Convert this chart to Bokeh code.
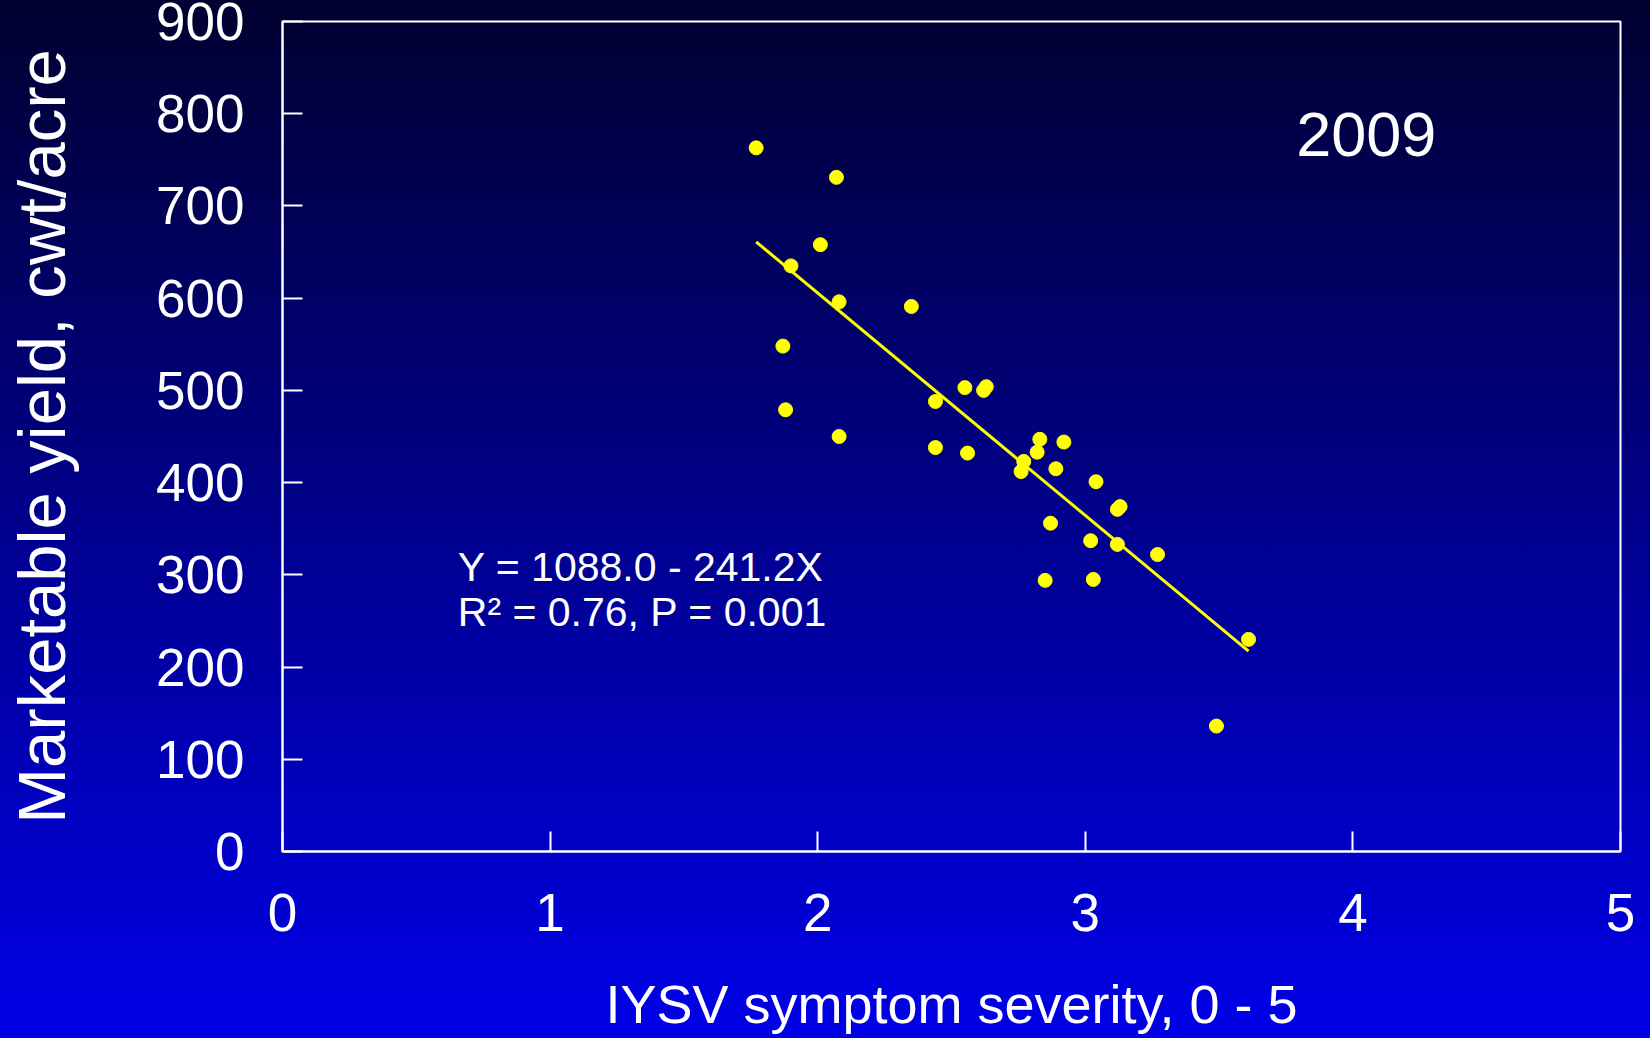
from bokeh.plotting import figure
from bokeh.models import Range1d, FixedTicker, Label, ColumnDataSource
from bokeh.embed import file_html
from bokeh.resources import INLINE

# ---- data ----
severity = [1.77, 2.07, 2.01, 1.90, 2.08, 2.35, 1.87, 1.88, 2.08, 2.44,
            2.55, 2.62, 2.63, 2.44, 2.56, 2.77, 2.76, 2.83, 2.82, 2.92,
            2.89, 3.04, 3.12, 3.13, 2.87, 3.02, 3.12, 3.27, 2.85, 3.03,
            3.61, 3.49]
yield_cwt = [763, 731, 658, 635, 596, 591, 548, 479, 450, 488,
             503, 500, 504, 438, 432, 423, 412, 447, 433, 444,
             415, 401, 371, 374, 356, 337, 333, 322, 294, 295,
             230, 136]
intercept = 1088.0
slope = -241.2
x_ticks = [0, 1, 2, 3, 4, 5]
y_ticks = [0, 100, 200, 300, 400, 500, 600, 700, 800, 900]
year_label = "2009"
eq_line1 = "Y = 1088.0 - 241.2X"
eq_line2 = "R\u00b2 = 0.76, P = 0.001"
x_title = "IYSV symptom severity, 0 - 5"
y_title = "Marketable yield, cwt/acre"

FONT = "Liberation Sans"
W, H = 1650, 1038

p = figure(width=W, height=H, output_backend="svg", toolbar_location=None,
           x_range=Range1d(0, 5), y_range=Range1d(0, 900),
           min_border_left=282, min_border_right=30, min_border_top=21,
           min_border_bottom=187)
p.border_fill_color = None
p.background_fill_color = None
p.styles = {"background": "linear-gradient(to bottom, #000030, #0000e8)"}
p.outline_line_color = "white"
p.outline_line_width = 2
p.grid.visible = False

for ax in (p.xaxis[0], p.yaxis[0]):
    ax.axis_line_color = "white"
    ax.axis_line_width = 2
    ax.major_tick_line_color = "white"
    ax.major_tick_line_width = 2
    ax.major_tick_in = 20
    ax.major_tick_out = 0
    ax.minor_tick_line_color = None
    ax.major_label_text_color = "white"
    ax.major_label_text_font = FONT
    ax.major_label_text_font_size = "53px"
    ax.axis_label_text_font = FONT
    ax.axis_label_text_font_style = "normal"
    ax.axis_label_text_color = "white"

p.xaxis.ticker = FixedTicker(ticks=x_ticks)
p.yaxis.ticker = FixedTicker(ticks=y_ticks)
p.xaxis.major_label_standoff = 42
p.yaxis.major_label_standoff = 38
p.yaxis.major_label_text_line_height = 1.3

p.yaxis.axis_label = y_title
p.yaxis.axis_label_text_font_size = "67px"
p.yaxis.axis_label_standoff = 74

p.xaxis.axis_label = x_title
p.xaxis.axis_label_text_font_size = "54px"
p.xaxis.axis_label_text_line_height = 1.0
p.xaxis.axis_label_standoff = 40

# regression line
lx = [min(severity), max(severity)]
ly = [intercept + slope * v for v in lx]
p.line(lx, ly, line_color="#ffff00", line_width=3)

src = ColumnDataSource(dict(x=severity, y=yield_cwt))
p.scatter("x", "y", source=src, size=14, fill_color="#ffff00", line_color="#ffff00")

p.add_layout(Label(x=4.05, y=777, text=year_label, text_align="center",
                   text_baseline="alphabetic", text_color="white",
                   text_font=FONT, text_font_size="63px"))
p.add_layout(Label(x=0.655, y=309, text=eq_line1, text_align="left",
                   text_baseline="alphabetic", text_color="white",
                   text_font=FONT, text_font_size="41px"))
p.add_layout(Label(x=0.655, y=260, text=eq_line2, text_align="left",
                   text_baseline="alphabetic", text_color="white",
                   text_font=FONT, text_font_size="41px"))

html = file_html(p, INLINE, title="IYSV 2009")
html = html.replace("<head>", "<head><style>html,body{margin:0;padding:0;overflow:hidden;background:linear-gradient(to bottom,#000030,#0000e8);min-height:100%;}</style>", 1)
open("out.html", "w").write(html)
